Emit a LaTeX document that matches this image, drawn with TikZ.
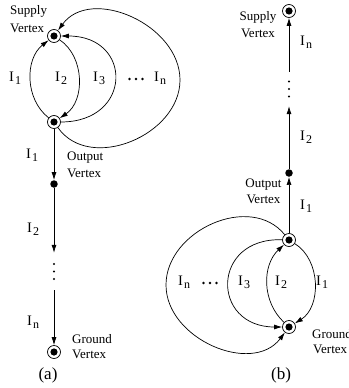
\documentclass[tikz,border=0pt]{standalone}
\usepackage{fontspec}
\setmainfont{Liberation Serif}
\usetikzlibrary{arrows.meta}
\newcommand\cur[1]{I\kern1pt\raisebox{-3.5pt}{\fontsize{12}{12}\selectfont #1}}
\begin{document}
\begin{tikzpicture}[x=1pt,y=1pt,
  vtx/.style={circle,draw,line width=0.7pt,minimum size=13pt,inner sep=0pt,
    path picture={\fill (path picture bounding box.center) circle (3.6pt);}},
  dotv/.style={circle,fill,minimum size=7.5pt,inner sep=0pt},
  vdts/.style={inner sep=0pt,minimum width=4pt,minimum height=#1,
    path picture={\fill (path picture bounding box.center) circle (1.2pt)
      ++(0,7.5) circle (1.2pt) ++(0,-15) circle (1.2pt);}},
  hdts/.style={inner sep=0pt,minimum width=18pt,minimum height=4pt,
    path picture={\fill (path picture bounding box.center) circle (1.4pt)
      ++(6.5,0) circle (1.4pt) ++(-13,0) circle (1.4pt);}},
  lbl/.style={font=\fontsize{13}{13}\selectfont,inner sep=0pt},
  cl/.style={font=\fontsize{14.5}{14.5}\selectfont,inner sep=0pt},
  figlbl/.style={font=\fontsize{17}{17}\selectfont,inner sep=0pt},
  wire/.style={line width=0.7pt,-{Latex[length=8pt,width=5pt]}}
]
\useasboundingbox (0,0) rectangle (348,-388);

% ---------- (a) ----------
\node[vtx] (Sa) at (54,-36) {};
\node[vtx] (Oa) at (54,-122) {};
\node[dotv] (Da) at (54,-184) {};
\node[vdts=37pt] (Va) at (54,-271.5) {};
\node[vtx] (Ga) at (54,-352) {};
\coordinate (Ra) at (180,-80);

\draw[wire] (Oa) -- (Da);
\draw[wire] (Da) -- (Va.north);
\draw[wire] (Va.south) -- (Ga);
\draw[wire] (Oa) to[bend left=52] (Sa);
\draw[wire] (Sa) to[bend left=56] (Oa);
\draw[wire] (Oa) to[out=0,in=0,looseness=2.15] (Sa);
\draw[wire] (Oa) to[out=-55,in=-90,looseness=1.08] (Ra) to[out=90,in=54,looseness=1.08] (Sa);

\node[lbl,anchor=base west] (aSup) at (10,-14) {Supply};
\node[lbl,anchor=base west] (aSupV) at (10,-32) {Vertex};
\node[cl,anchor=base west] (aI1) at (9,-81) {\cur{1}};
\node[cl,anchor=base west] (aI2) at (55,-81) {\cur{2}};
\node[cl,anchor=base west] (aI3) at (93,-81) {\cur{3}};
\node[hdts] (aDots) at (136,-79) {};
\node[cl,anchor=base west] (aIn) at (154,-81) {\cur{n}};
\node[cl,anchor=base west] (aJ1) at (26,-158) {\cur{1}};
\node[lbl,anchor=base west] (aOut) at (67,-160) {Output};
\node[lbl,anchor=base west] (aOutV) at (67,-177) {Vertex};
\node[cl,anchor=base west] (aJ2) at (27,-232) {\cur{2}};
\node[cl,anchor=base west] (aJn) at (27,-325) {\cur{n}};
\node[lbl,anchor=base west] (aGnd) at (72,-343) {Ground};
\node[lbl,anchor=base west] (aGndV) at (72,-358) {Vertex};
\node[figlbl] (capA) at (48,-375) {(a)};

% ---------- (b) ----------
\node[vtx] (Sb) at (289,-11) {};
\node[vdts=34pt] (Vb) at (289,-89) {};
\node[dotv] (Db) at (289,-173) {};
\node[vtx] (Ob) at (289,-240) {};
\node[vtx] (Gb) at (289,-327) {};
\coordinate (Lb) at (166,-285);

\draw[wire] (Ob) -- (Db);
\draw[wire] (Db) -- (Vb.south);
\draw[wire] (Vb.north) -- (Sb);
\draw[wire] (Ob) to[bend left=58] (Gb);
\draw[wire] (Gb) to[bend left=47] (Ob);
\draw[wire] (Ob) to[out=178,in=180,looseness=2.1] (Gb);
\draw[wire] (Ob) to[out=129,in=90,looseness=1.08] (Lb) to[out=-90,in=-127,looseness=1.08] (Gb);

\node[lbl,anchor=base] (bSup) at (258,-20) {Supply};
\node[lbl,anchor=base] (bSupV) at (258,-37) {Vertex};
\node[cl,anchor=base west] (bIn) at (300,-45) {\cur{n}};
\node[cl,anchor=base west] (bI2) at (300,-140) {\cur{2}};
\node[lbl,anchor=base] (bOut) at (263.5,-187) {Output};
\node[lbl,anchor=base] (bOutV) at (263.5,-203) {Vertex};
\node[cl,anchor=base west] (bI1) at (300,-209) {\cur{1}};
\node[cl,anchor=base west] (bJn) at (178,-285) {\cur{n}};
\node[hdts] (bDots) at (210,-283) {};
\node[cl,anchor=base west] (bJ3) at (238,-285) {\cur{3}};
\node[cl,anchor=base west] (bJ2) at (275,-285) {\cur{2}};
\node[cl,anchor=base west] (bJ1) at (316,-285) {\cur{1}};
\node[lbl,anchor=base west] (bGnd) at (312,-338) {Ground};
\node[lbl,anchor=base west] (bGndV) at (313,-353) {Vertex};
\node[figlbl] (capB) at (281,-375) {(b)};
\end{tikzpicture}
\end{document}
